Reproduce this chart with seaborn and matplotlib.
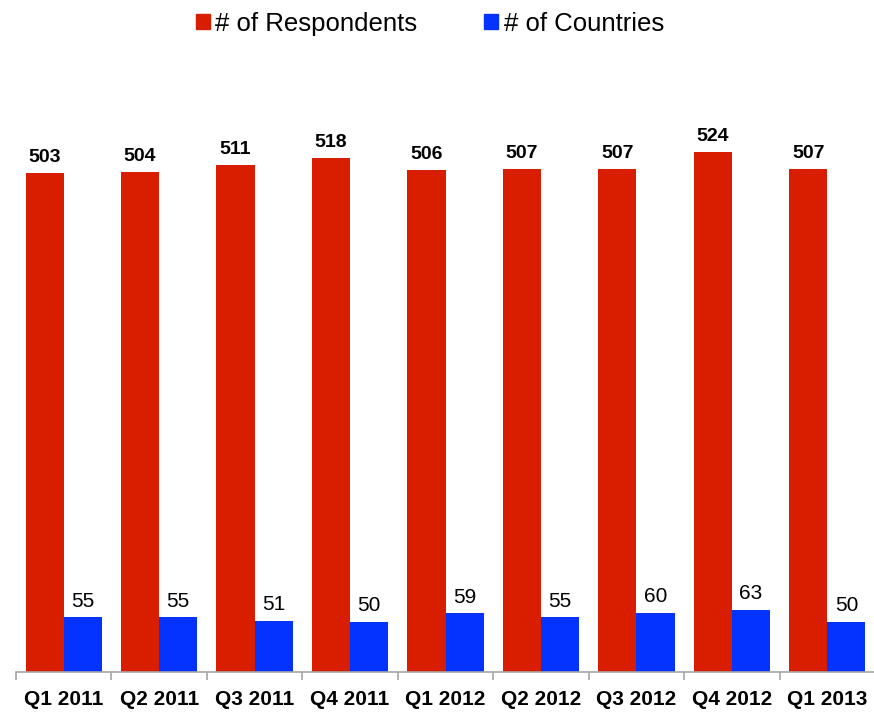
import matplotlib
matplotlib.use("Agg")
import matplotlib.pyplot as plt
import numpy as np
import pandas as pd
import seaborn as sns

quarters = ["Q1 2011", "Q2 2011", "Q3 2011", "Q4 2011", "Q1 2012",
            "Q2 2012", "Q3 2012", "Q4 2012", "Q1 2013"]
respondents = [503, 504, 511, 518, 506, 507, 507, 524, 507]
countries = [55, 55, 51, 50, 59, 55, 60, 63, 50]
series_names = ["# of Respondents", "# of Countries"]
colors = ["#D91E00", "#0433FF"]

df = pd.DataFrame({
    "Quarter": quarters * 2,
    "Series": [series_names[0]] * len(quarters) + [series_names[1]] * len(quarters),
    "Value": respondents + countries,
})

sns.set_theme(style="white")
plt.rcParams["font.family"] = ["Liberation Sans", "DejaVu Sans"]
plt.rcParams["text.color"] = "black"
plt.rcParams["xtick.color"] = "black"

fig = plt.figure(figsize=(8.74, 7.14), dpi=100)
ax = fig.add_axes([16 / 874, 42 / 714, 859 / 874, 595 / 714])

sns.barplot(data=df, x="Quarter", y="Value", hue="Series", order=quarters,
            hue_order=series_names, palette=colors, width=0.8, saturation=1,
            linewidth=0, ax=ax, legend=False)

ax.set_ylim(0, 600)
ax.set_xlim(-0.5, len(quarters) - 0.5)
ax.set_xlabel("")
ax.set_ylabel("")
ax.set_yticks([])
for side in ["top", "right", "left"]:
    ax.spines[side].set_visible(False)
ax.spines["bottom"].set_color("#A6A6A6")
ax.spines["bottom"].set_linewidth(1.2)

# category labels centred, tick marks at group boundaries
ax.set_xticks(range(len(quarters)))
ax.set_xticklabels(quarters, fontsize=15, fontweight="bold", color="black")
ax.tick_params(axis="x", which="major", length=0, pad=13)
ax.set_xticks(np.arange(-0.5, len(quarters), 1.0), minor=True)
ax.tick_params(axis="x", which="minor", length=6, color="#A6A6A6",
               width=1.2, direction="out", bottom=True)

ax.bar_label(ax.containers[0], fontsize=14, fontweight="bold", padding=5,
             color="black")
ax.bar_label(ax.containers[1], fontsize=15, padding=5, color="black")

handles = [plt.Rectangle((0, 0), 1, 1, color=c) for c in colors]
fig.legend(handles, series_names, loc="upper center", ncol=2,
           bbox_to_anchor=(0.492, 1.016), frameon=False, fontsize=18.5,
           handlelength=0.55, handleheight=0.55, handletextpad=0.2,
           columnspacing=2.6)

fig.savefig("out.png", dpi=100)
